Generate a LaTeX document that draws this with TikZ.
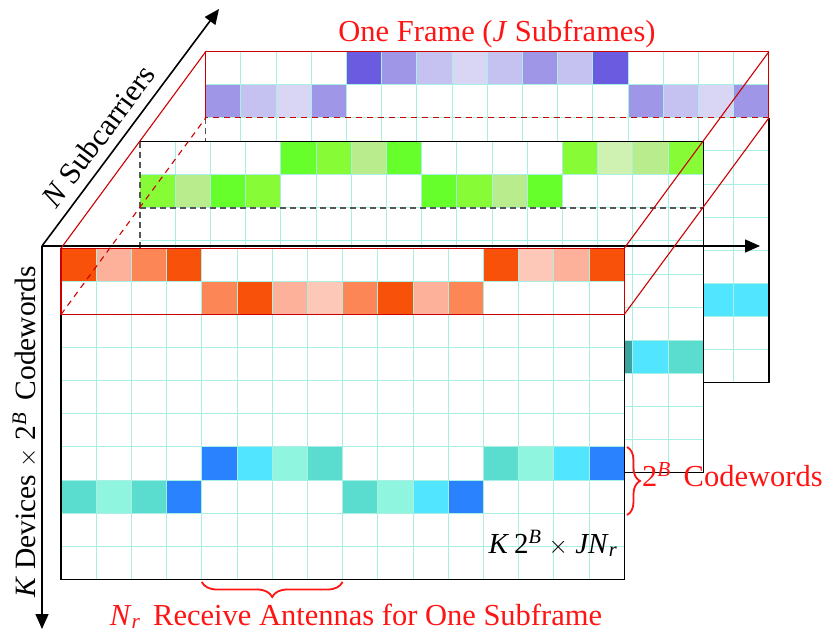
\documentclass[tikz,border=0pt]{standalone}
\usepackage{fontspec}
\setmainfont{Liberation Serif}
\usetikzlibrary{arrows.meta,decorations.pathreplacing}

\definecolor{gridc}{HTML}{A8F0E4}
\definecolor{pD}{HTML}{6B5BE0}
\definecolor{pM}{HTML}{9F96E8}
\definecolor{pL}{HTML}{C5C1F0}
\definecolor{pV}{HTML}{D9D5F4}
\definecolor{gB}{HTML}{66FF2B}
\definecolor{gM}{HTML}{86FB36}
\definecolor{gL}{HTML}{B8EC8C}
\definecolor{gV}{HTML}{CFF2B3}
\definecolor{oD}{HTML}{F8520A}
\definecolor{oM}{HTML}{FD8656}
\definecolor{oL}{HTML}{FDB09A}
\definecolor{oV}{HTML}{FEC8B8}
\definecolor{bB}{HTML}{2A82FF}
\definecolor{bC}{HTML}{52E5FF}
\definecolor{bA}{HTML}{8FF5DF}
\definecolor{bT}{HTML}{5ADCCF}
\definecolor{bK}{HTML}{3AA3A0}
\definecolor{framered}{HTML}{CC0000}
\definecolor{labred}{HTML}{FF1414}
\definecolor{dgray}{HTML}{555555}

\newcommand{\mcw}{35.2}
\newcommand{\mch}{33.1}
\newcommand{\drawmat}[1]{%
  \fill[white] (0,0) rectangle ({16*\mcw},{10*\mch});
  \foreach \ci/\ri/\colr in {#1} {\fill[\colr] ({(\ci-1)*\mcw},{(\ri-1)*\mch}) rectangle ({\ci*\mcw},{\ri*\mch});}
  \foreach \ii in {1,...,15} {\draw[gridline] ({\ii*\mcw},0) -- ({\ii*\mcw},{10*\mch});}
  \foreach \jj in {1,...,9} {\draw[gridline] (0,{\jj*\mch}) -- ({16*\mcw},{\jj*\mch});}
}

\tikzset{
  gridline/.style={gridc, line width=1pt},
  matborder/.style={black, line width=1.3pt},
  hiddenedge/.style={dgray, line width=1.3pt, dash pattern=on 6pt off 4pt},
  frameline/.style={framered, line width=1.1pt},
  framehidden/.style={framered, line width=1.1pt, dash pattern=on 6pt off 5pt},
  axis/.style={black, line width=1.6pt, -{Triangle[length=15pt,width=13pt]}},
  lab/.style={font=\fontsize{30.5}{32}\selectfont, inner sep=0pt},
  bracestyle/.style={labred, line width=1.8pt, decorate},
}

\begin{document}
\begin{tikzpicture}[x=1pt,y=-1pt]
\useasboundingbox (0,0) rectangle (830,639);

% back (purple) subframe
\begin{scope}[shift={(205.7,51.7)}]
  \drawmat{5/1/pD,6/1/pM,7/1/pL,8/1/pV,9/1/pL,10/1/pM,11/1/pL,12/1/pD,
           1/2/pM,2/2/pL,3/2/pV,4/2/pM,13/2/pM,14/2/pL,15/2/pV,16/2/pM,
           15/8/bC,16/8/bC}
  \draw[matborder] (563.2,66.2) -- (563.2,331) -- (0,331);
  \draw[hiddenedge] (0,66.2) -- (0,331);
\end{scope}

% middle (green) subframe
\begin{scope}[shift={(140,141.7)}]
  \drawmat{5/1/gB,6/1/gM,7/1/gL,8/1/gB,13/1/gM,14/1/gV,15/1/gL,16/1/gM,
           1/2/gM,2/2/gL,3/2/gB,4/2/gM,9/2/gB,10/2/gM,11/2/gL,12/2/gB,
           14/7/bK,15/7/bC,16/7/bT}
  \draw[matborder] (0,0) -- (563.2,0) -- (563.2,331) -- (0,331);
  \draw[hiddenedge] (0,0) -- (0,331);
  \draw[hiddenedge] (0,66.2) -- (563.2,66.2);
\end{scope}

% front (orange) subframe
\begin{scope}[shift={(61,248.3)}]
  \drawmat{1/1/oD,2/1/oL,3/1/oM,4/1/oD,13/1/oD,14/1/oV,15/1/oL,16/1/oD,
           5/2/oM,6/2/oD,7/2/oL,8/2/oV,9/2/oM,10/2/oD,11/2/oL,12/2/oM,
           5/7/bB,6/7/bC,7/7/bA,8/7/bT,13/7/bT,14/7/bA,15/7/bC,16/7/bB,
           1/8/bT,2/8/bA,3/8/bT,4/8/bB,9/8/bT,10/8/bA,11/8/bC,12/8/bB}
  \draw[matborder] (0,66.2) -- (0,331) -- (563.2,331) -- (563.2,66.2);
\end{scope}

% axes
\coordinate (O) at (42,246);
\coordinate (XE) at (760,246);
\coordinate (YE) at (42,629);
\coordinate (ZE) at (219,9);
\draw[axis] (O) -- (XE);
\draw[axis] (O) -- (YE);
\draw[axis] (O) -- (ZE);

% one-frame box
\coordinate (F1) at (61,248.3);
\coordinate (F2) at (624.2,248.3);
\coordinate (F3) at (624.2,314.5);
\coordinate (F4) at (61,314.5);
\coordinate (B1) at (205.7,51.7);
\coordinate (B2) at (768.9,51.7);
\coordinate (B3) at (768.9,117.9);
\coordinate (B4) at (205.7,117.9);
\draw[frameline] (F1) -- (F2) -- (F3) -- (F4) -- cycle;
\draw[frameline] (B4) -- (B1) -- (B2) -- (B3);
\draw[framehidden] (B3) -- (B4);
\draw[frameline] (F1) -- (B1);
\draw[frameline] (F2) -- (B2);
\draw[frameline] (F3) -- (B3);
\draw[framehidden] (F4) -- (B4);

% braces
\coordinate (BR1) at (342.6,582);
\coordinate (BR2) at (201.8,582);
\coordinate (RB1) at (627,447);
\coordinate (RB2) at (627,515);
\draw[bracestyle, decoration={brace, amplitude=15pt}] (BR1) -- (BR2);
\draw[bracestyle, decoration={brace, amplitude=13pt}] (RB1) -- (RB2);

% labels
\node[lab, text=labred, anchor=base] (title) at (497,41.5) {One Frame (\textit{J} Subframes)};
\node[lab, rotate=53.3] (nsub) at (98,136) {\textit{N} Subcarriers};
\node[lab, rotate=90, font=\fontsize{29.5}{31}\selectfont] (kdev) at (25,432) {\textit{K} Devices $\times$ 2\textsuperscript{\textit{B}}\, Codewords};
\node[lab, text=labred, anchor=base west] (cw) at (642,486) {2\textsuperscript{\textit{B}}\, Codewords};
\node[lab, text=labred, anchor=base] (nr) at (356,625) {\textit{N}\textsubscript{\textit{r}}\, Receive Antennas for One Subframe};
\node[lab, anchor=base, font=\fontsize{29}{31}\selectfont] (dim) at (553,553) {\textit{K}\,2\textsuperscript{\textit{B}} $\times$ \textit{JN}\textsubscript{\textit{r}}};
\end{tikzpicture}
\end{document}
